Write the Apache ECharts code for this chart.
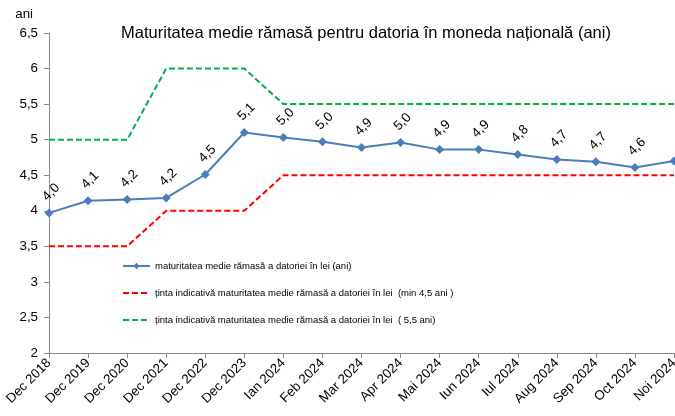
<!DOCTYPE html>
<html><head><meta charset="utf-8">
<script src="https://cdn.jsdelivr.net/npm/echarts@6/dist/echarts.min.js"></script>
<style>html,body{margin:0;padding:0;background:#fff}#c{width:675px;height:416px}</style>
</head><body><div id="c"></div>
<script>
const categories = ['Dec 2018','Dec 2019','Dec 2020','Dec 2021','Dec 2022','Dec 2023','Ian 2024','Feb 2024','Mar 2024','Apr 2024','Mai 2024','Iun 2024','Iul 2024','Aug 2024','Sep 2024','Oct 2024','Noi 2024'];
const maturitate = [3.97,4.14,4.16,4.18,4.51,5.10,5.03,4.97,4.89,4.96,4.86,4.86,4.79,4.72,4.69,4.61,4.70];
const tintaMin = [3.5,3.5,3.5,4,4,4,4.5,4.5,4.5,4.5,4.5,4.5,4.5,4.5,4.5,4.5,4.5];
const tinta55 = [5,5,5,6,6,6,5.5,5.5,5.5,5.5,5.5,5.5,5.5,5.5,5.5,5.5,5.5];
const seriesNames = ['maturitatea medie rămasă a datoriei în lei (ani)','ținta indicativă maturitatea medie rămasă a datoriei în lei  (min 4,5 ani )','ținta indicativă maturitatea medie rămasă a datoriei în lei  ( 5,5 ani)'];
const FONT = 'Liberation Sans, Arial, sans-serif';
const comma = v => String(v).replace('.', ',');
const chart = echarts.init(document.getElementById('c'));
chart.setOption({
  animation: false,
  textStyle: {fontFamily: FONT},
  title: {text: 'Maturitatea medie rămasă pentru datoria în moneda națională (ani)', left: 361, textAlign: 'center', top: 20,
    textStyle: {fontFamily: FONT, fontSize: 16.5, fontWeight: 'normal', color: '#000'}},
  legend: {orient: 'vertical', left: 117, top: 256, itemWidth: 27, itemHeight: 8, itemGap: 17,
    textStyle: {fontFamily: FONT, fontSize: 9.5, color: '#000'},
    data: [
      {name: seriesNames[0]},
      {name: seriesNames[1], itemStyle: {opacity: 0}},
      {name: seriesNames[2], itemStyle: {opacity: 0}}
    ]},
  grid: {left: 49, right: 1, top: 33, bottom: 63, outerBoundsMode: 'none', containLabel: false},
  xAxis: {type: 'category', data: categories, boundaryGap: false,
    axisLine: {lineStyle: {color: '#888'}}, axisTick: {alignWithLabel: true, lineStyle: {color: '#888'}, length: 5},
    axisLabel: {rotate: 45, fontSize: 13.3, color: '#000', fontFamily: FONT, interval: 0, margin: 8}},
  yAxis: {type: 'value', min: 2, max: 6.5, interval: 0.5, name: 'ani', nameLocation: 'end', nameGap: 12,
    nameTextStyle: {fontSize: 13.3, color: '#000', align: 'right', padding: [0, 16, 0, 0]},
    axisLine: {show: true, lineStyle: {color: '#888'}}, axisTick: {show: true, length: 5, lineStyle: {color: '#888'}},
    splitLine: {show: false},
    axisLabel: {fontSize: 13.3, color: '#000', fontFamily: FONT, margin: 11, formatter: v => comma(v)}},
  series: [
    {name: seriesNames[0], type: 'line', data: maturitate, symbol: 'diamond', symbolSize: 9, z: 5,
      lineStyle: {color: '#4a7ebb', width: 2}, itemStyle: {color: '#4a7ebb'},
      label: {show: true, position: 'top', distance: 14, offset: [3, 0], rotate: 45, align: 'center', verticalAlign: 'middle', fontSize: 13.3, color: '#000', fontFamily: FONT,
        formatter: p => p.dataIndex === categories.length - 1 ? '' : comma(p.value.toFixed(1))}},
    {name: seriesNames[1], type: 'line', data: tintaMin, symbol: 'none',
      lineStyle: {color: '#ff0000', width: 2, type: [6, 3]}, itemStyle: {color: '#ff0000'}},
    {name: seriesNames[2], type: 'line', data: tinta55, symbol: 'none',
      lineStyle: {color: '#00b050', width: 2, type: [6, 3]}, itemStyle: {color: '#00b050'}}
  ]
});
</script></body></html>
